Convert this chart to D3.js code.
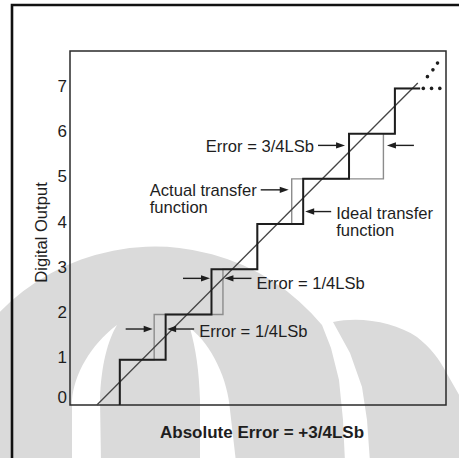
<!DOCTYPE html>
<html><head><meta charset="utf-8">
<script src="https://cdn.jsdelivr.net/npm/d3@7"></script>
<style>
body{margin:0;background:#fff}
svg{display:block}
text{font-family:"Liberation Sans",Arial,Helvetica,sans-serif;fill:#1e1e1e}
</style>
</head><body>
<svg id="chart" width="459" height="458"></svg>
<script>
// ---- data (input in LSB, output codes) ----
const codes = [0, 1, 2, 3, 4, 5, 6, 7];
const yTickLabels = ["0", "1", "2", "3", "4", "5", "6", "7"];
const idealTransitions  = [0.5, 1.5, 2.5, 3.5, 4.5, 5.5, 6.5];
const actualTransitions = [0.5, 1.25, 2.75, 3.5, 4.25, 6.25, 6.5];
const inputEnd = 7.05;
const idealLine = [[0, 0], [7.0, 7.12]];
const continuationDots = [[7.12, 7], [7.30, 7], [7.48, 7], [7.21, 7.26], [7.33, 7.41], [7.43, 7.56]];
const xTitle = "Absolute Error = +3/4LSb";
const yTitle = "Digital Output";
const errorLabels = ["Error = 1/4LSb", "Error = 1/4LSb", "Error = 3/4LSb"];
const errorSteps = [1, 2, 5];          // index of the transition that is off
const errorArrowCodes = [1.68, 2.80, 5.74];
const errorTextCodes = [1.63, 2.70, 5.72];
const actualLabel = ["Actual transfer", "function"];
const idealLabel = ["Ideal transfer", "function"];

// ---- layout ----
const svg = d3.select("#chart");
const plot = {left: 70, right: 446, top: 51, bottom: 405};
const x = d3.scaleLinear().domain([-0.586, 7.615]).range([plot.left, plot.right]);
const y = d3.scaleLinear().domain([0, 7.827]).range([plot.bottom, plot.top]);
const ink = "#1e1e1e";

// ---- background watermark (decorative) ----
const wm = svg.append("g").attr("fill", "#dadada");
wm.append("path").attr("d",
  "M-62,464 A217,217 0 0 1 322,325 L331,348 L339,380 L343,420 L345,462 L-62,462 Z");
wm.append("path").attr("d",
  "M333,322 C360,316 395,322 417,337 C430,347 440,360 446,372 L462,400 L462,462 L370,462 L367,420 L362,387 L350,353 Z");
const wmw = svg.append("g").attr("fill", "#fff");
wmw.append("path").attr("d",
  "M72,462 L72,400 C74,375 90,345 117,325 C108,340 101,365 100,400 L101,462 Z");
wmw.append("path").attr("d",
  "M190,328 C212,345 228,380 230,410 L236,462 L200,462 L200,400 C199,370 196,350 190,328 Z");

// ---- outer frame ----
svg.append("path").attr("d", "M12,470 V5 H470")
  .attr("fill", "none").attr("stroke", "#111").attr("stroke-width", 2.6);

// ---- plot frame ----
svg.append("rect")
  .attr("x", plot.left).attr("y", plot.top)
  .attr("width", plot.right - plot.left).attr("height", plot.bottom - plot.top)
  .attr("fill", "none").attr("stroke", "#2a2a2a").attr("stroke-width", 1.5);

// ---- y axis labels ----
const yAxis = d3.axisLeft(y).tickValues(codes).tickFormat((d, i) => yTickLabels[i])
  .tickSize(0).tickPadding(3);
const ga = svg.append("g").attr("transform", `translate(${plot.left},0)`).call(yAxis);
ga.select(".domain").remove();
ga.selectAll("text").attr("font-size", 17).attr("dy", (d) => d === 0 ? "-0.15em" : "0.18em")
  .attr("font-family", '"Liberation Sans",Arial,sans-serif').attr("fill", ink);

// ---- staircases ----
function stairs(trans) {
  const pts = [[trans[0], 0]];
  trans.forEach((t, i) => { pts.push([t, codes[i]]); pts.push([t, codes[i + 1]]); });
  pts.push([inputEnd, codes[codes.length - 1]]);
  return pts;
}
const line = d3.line().x(d => x(d[0])).y(d => y(d[1]));
svg.append("path").attr("d", line(stairs(actualTransitions)))
  .attr("fill", "none").attr("stroke", "#8c8c8c").attr("stroke-width", 1.4);
svg.append("path").attr("d", line(idealLine))
  .attr("fill", "none").attr("stroke", "#444").attr("stroke-width", 1.3);
svg.append("path").attr("d", line(stairs(idealTransitions)))
  .attr("fill", "none").attr("stroke", ink).attr("stroke-width", 2);

// continuation dots
svg.selectAll("circle.dot").data(continuationDots).join("circle")
  .attr("class", "dot").attr("cx", d => x(d[0])).attr("cy", d => y(d[1]))
  .attr("r", 1.8).attr("fill", ink);

// ---- arrows ----
function arrow(x1, y1, x2, y2) {
  const g = svg.append("g");
  const dir = Math.sign(x2 - x1);
  g.append("line").attr("x1", x1).attr("y1", y1).attr("x2", x2 - dir * 6).attr("y2", y2)
    .attr("stroke", ink).attr("stroke-width", 1.4);
  g.append("path")
    .attr("d", `M${x2},${y2} L${x2 - dir * 9},${y2 - 3.2} L${x2 - dir * 9},${y2 + 3.2} Z`)
    .attr("fill", ink);
}
const fs = 16.6;

errorSteps.forEach((k, i) => {
  const a = Math.min(idealTransitions[k], actualTransitions[k]);
  const b = Math.max(idealTransitions[k], actualTransitions[k]);
  const ay = y(errorArrowCodes[i]);
  const big = i === 2;
  const lx = x(a) - (big ? 4 : 1.5), rx = x(b) + (big ? 3.5 : 1.5);
  arrow(lx - 27, ay, lx, ay);
  arrow(rx + 27, ay, rx, ay);
  const ty = y(errorTextCodes[i]) + 6;
  if (big) {
    svg.append("text").attr("x", lx - 31).attr("y", ty).attr("text-anchor", "end")
      .attr("font-size", fs).text(errorLabels[i]);
  } else {
    svg.append("text").attr("x", rx + 32).attr("y", ty)
      .attr("font-size", fs).text(errorLabels[i]);
  }
});

// two-line label as one text element
function twoLine(xPos, yPos, lines) {
  const t = svg.append("text").attr("x", xPos).attr("y", yPos).attr("font-size", fs);
  lines.forEach((s, i) => t.append("tspan").attr("x", xPos).attr("dy", i ? 17 : 0).text(s));
  return t;
}

// Actual transfer function label
{
  const tipX = x(actualTransitions[4]) - 3, ay = y(4.757);
  arrow(tipX - 28, ay, tipX, ay);
  const probe = svg.append("text").attr("font-size", fs).text(actualLabel[0]);
  const w = probe.node().getComputedTextLength();
  probe.remove();
  twoLine(tipX - 32 - w, ay + 6, actualLabel);
}
// Ideal transfer function label
{
  const tipX = x(idealTransitions[4]) + 2, ay = y(4.277);
  arrow(tipX + 26, ay, tipX, ay);
  twoLine(tipX + 31, ay + 7.5, idealLabel);
}

// ---- axis titles ----
svg.append("text").attr("x", 262).attr("y", 437.5).attr("text-anchor", "middle")
  .attr("font-size", 17).attr("font-weight", "bold").text(xTitle);
svg.append("text").attr("transform", "translate(47,232.5) rotate(-90)")
  .attr("text-anchor", "middle").attr("font-size", fs).text(yTitle);
</script>
</body></html>
